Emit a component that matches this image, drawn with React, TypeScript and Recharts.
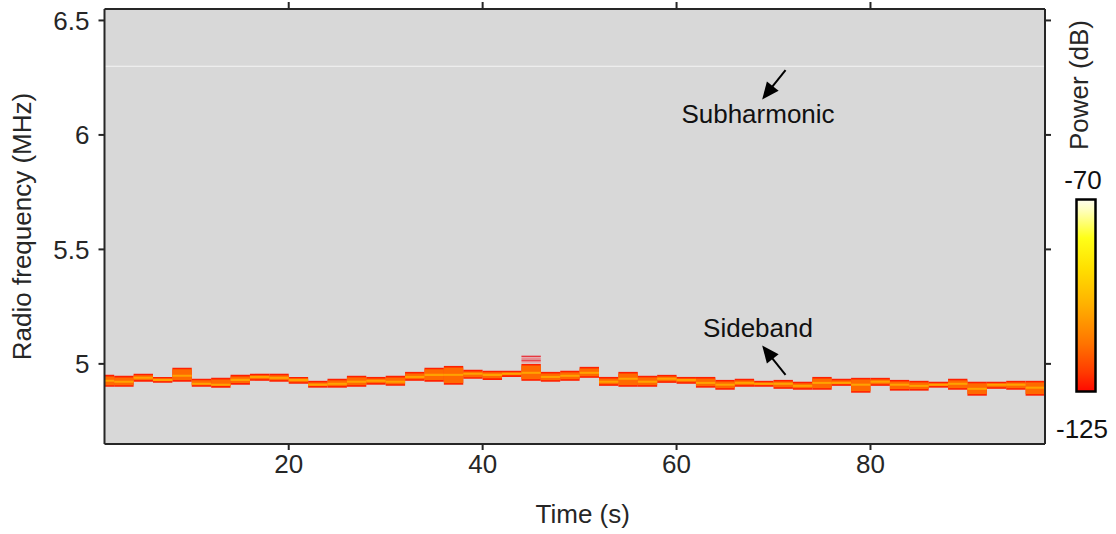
import React from 'react';
import { ComposedChart, XAxis, YAxis, ReferenceArea, ReferenceLine, ReferenceDot, CartesianGrid, Line } from 'recharts';

// ---- data ----
const binCenters = [1, 3, 5, 7, 9, 11, 13, 15, 17, 19, 21, 23, 25, 27, 29, 31, 33, 35, 37, 39, 41, 43, 45, 47, 49, 51, 53, 55, 57, 59, 61, 63, 65, 67, 69, 71, 73, 75, 77, 79, 81, 83, 85, 87, 89, 91, 93, 95, 97];
const bandHigh = [4.952, 4.948, 4.957, 4.943, 4.983, 4.935, 4.939, 4.952, 4.957, 4.957, 4.943, 4.926, 4.935, 4.948, 4.943, 4.948, 4.965, 4.983, 4.991, 4.974, 4.970, 4.970, 5.000, 4.965, 4.970, 4.987, 4.943, 4.965, 4.948, 4.952, 4.943, 4.943, 4.930, 4.935, 4.926, 4.930, 4.922, 4.943, 4.935, 4.939, 4.939, 4.930, 4.926, 4.922, 4.935, 4.922, 4.922, 4.926, 4.926];
const bandLow = [4.900, 4.900, 4.922, 4.917, 4.922, 4.900, 4.896, 4.909, 4.926, 4.922, 4.913, 4.896, 4.896, 4.900, 4.909, 4.904, 4.926, 4.922, 4.909, 4.935, 4.930, 4.943, 4.926, 4.922, 4.926, 4.939, 4.904, 4.900, 4.900, 4.917, 4.913, 4.896, 4.887, 4.900, 4.900, 4.891, 4.887, 4.887, 4.904, 4.874, 4.904, 4.883, 4.883, 4.896, 4.887, 4.861, 4.891, 4.887, 4.861];
const bandPeak = [4.926, 4.922, 4.939, 4.930, 4.948, 4.913, 4.909, 4.930, 4.943, 4.939, 4.930, 4.909, 4.913, 4.922, 4.926, 4.922, 4.943, 4.952, 4.952, 4.957, 4.952, 4.957, 4.961, 4.943, 4.948, 4.961, 4.922, 4.935, 4.922, 4.935, 4.930, 4.917, 4.909, 4.917, 4.913, 4.913, 4.904, 4.917, 4.917, 4.909, 4.922, 4.909, 4.904, 4.909, 4.913, 4.891, 4.909, 4.909, 4.896];
const ghostTime = 45;
const ghostLines = [5.033, 5.025, 5.016, 5.009];
const subharmonicFreq = 6.3;

const xTicks = [20, 40, 60, 80];
const yTicks = [5, 5.5, 6, 6.5];
const xDomain = [1, 98];
const yDomain = [4.65, 6.55];

const annotationText = ['Subharmonic', 'Sideband'];
const annotationTime = [68.4, 68.4];
const annotationFreq = [6.091, 5.157];
const arrowTailTime = [71.24, 71.24];
const arrowTailFreq = [6.283, 4.952];
const arrowTipTime = [68.83, 68.83];
const arrowTipFreq = [6.155, 5.080];

const colorbarTicks = ['-70', '-125'];
const colorbarTitle = 'Power (dB)';

const chartData = binCenters.map((t, i) => ({ t, f: bandPeak[i] }));

// ---- styles ----
const FONT = 'Liberation Sans, Arial, Helvetica, sans-serif';
const FS = 26;
const AX = '#262626';
const BG = '#d8d8d8';
const RED = '#ff2000';
const ORANGE = '#ff6a00';
const CORE = '#ffa200';
const BIN_HALF = 1;
const INSET = 0.007;
const CORE_HALF = 0.0045;

const Arrow = (props: any) => {
  const { x1, y1, x2, y2 } = props;
  if ([x1, y1, x2, y2].some((v) => typeof v !== 'number' || isNaN(v))) return null;
  const dx = x2 - x1;
  const dy = y2 - y1;
  const len = Math.sqrt(dx * dx + dy * dy);
  const ux = dx / len;
  const uy = dy / len;
  const headLen = 17;
  const headHalf = 7.5;
  const bx = x2 - ux * headLen;
  const by = y2 - uy * headLen;
  const px = -uy;
  const py = ux;
  return (
    <g>
      <line x1={x1} y1={y1} x2={bx + ux * 2} y2={by + uy * 2} stroke="#000" strokeWidth={2} />
      <polygon
        points={`${x2},${y2} ${bx + px * headHalf},${by + py * headHalf} ${bx - px * headHalf},${by - py * headHalf}`}
        fill="#000"
      />
    </g>
  );
};

const YLabel = (props: any) => {
  const vb = props.viewBox || {};
  const cx = 31;
  const cy = (vb.y ?? 9) + (vb.height ?? 435) / 2;
  return (
    <text x={cx} y={cy} transform={`rotate(-90, ${cx}, ${cy})`} textAnchor="middle" fontSize={FS} fill={AX} fontFamily={FONT}>
      Radio frequency (MHz)
    </text>
  );
};

export default function App() {
  const tickStyle = { fontSize: FS, fill: AX, fontFamily: FONT };
  return (
    <div style={{ position: 'absolute', left: 0, top: 0, width: 1116, height: 534, background: '#fff', fontFamily: FONT }}>
      <ComposedChart width={1116} height={534} margin={{ top: 0, right: 0, bottom: 0, left: 0 }} data={chartData}>
        <CartesianGrid xAxisId="bottom" yAxisId="left" fill={BG} horizontal={false} vertical={false} />
        <XAxis
          xAxisId="bottom"
          dataKey="t"
          type="number"
          domain={xDomain}
          ticks={xTicks}
          allowDataOverflow
          height={90}
          tickSize={6}
          tickMargin={5}
          stroke={AX}
          strokeWidth={2}
          tick={tickStyle}
          label={{ value: 'Time (s)', position: 'insideBottom', offset: 11, dx: 8, fontSize: FS, fill: AX, fontFamily: FONT }}
        />
        <XAxis
          xAxisId="top"
          dataKey="t"
          orientation="top"
          type="number"
          domain={xDomain}
          ticks={xTicks}
          allowDataOverflow
          height={9}
          tickSize={7}
          stroke={AX}
          strokeWidth={2}
          tickFormatter={() => ''}
        />
        <YAxis
          yAxisId="left"
          type="number"
          domain={yDomain}
          ticks={yTicks}
          allowDataOverflow
          width={104.5}
          tickSize={6}
          tickMargin={9}
          stroke={AX}
          strokeWidth={2}
          tick={tickStyle}
          label={<YLabel />}
        />
        <YAxis
          yAxisId="right"
          orientation="right"
          type="number"
          domain={yDomain}
          ticks={yTicks}
          allowDataOverflow
          width={71}
          tickSize={6}
          stroke={AX}
          strokeWidth={2}
          tickFormatter={() => ''}
        />

        <Line xAxisId="bottom" yAxisId="left" dataKey="f" stroke="none" dot={false} activeDot={false} isAnimationActive={false} legendType="none" />
        <Line xAxisId="top" yAxisId="right" dataKey="f" stroke="none" dot={false} activeDot={false} isAnimationActive={false} legendType="none" />

        <ReferenceLine xAxisId="bottom" yAxisId="left" y={subharmonicFreq} stroke="#f4f4f4" strokeWidth={1} />

        {binCenters.map((c, i) => (
          <ReferenceArea
            key={`o${i}`}
            xAxisId="bottom"
            yAxisId="left"
            x1={c - BIN_HALF}
            x2={c + BIN_HALF}
            y1={bandLow[i]}
            y2={bandHigh[i]}
            fill={RED}
            fillOpacity={1}
            stroke="none"
            ifOverflow="hidden"
          />
        ))}
        {binCenters.map((c, i) => (
          <ReferenceArea
            key={`m${i}`}
            xAxisId="bottom"
            yAxisId="left"
            x1={c - BIN_HALF}
            x2={c + BIN_HALF}
            y1={bandLow[i] + INSET}
            y2={bandHigh[i] - INSET}
            fill={ORANGE}
            fillOpacity={1}
            stroke="none"
            ifOverflow="hidden"
          />
        ))}
        {binCenters.map((c, i) => (
          <ReferenceArea
            key={`c${i}`}
            xAxisId="bottom"
            yAxisId="left"
            x1={c - BIN_HALF}
            x2={c + BIN_HALF}
            y1={bandPeak[i] - CORE_HALF}
            y2={bandPeak[i] + CORE_HALF}
            fill={CORE}
            fillOpacity={1}
            stroke="none"
            ifOverflow="hidden"
          />
        ))}
        {ghostLines.map((f, i) => (
          <ReferenceLine
            key={`g${i}`}
            xAxisId="bottom"
            yAxisId="left"
            segment={[{ x: ghostTime - BIN_HALF, y: f }, { x: ghostTime + BIN_HALF, y: f }]}
            stroke={i % 2 === 0 ? '#e8303a' : '#ee7a80'}
            strokeWidth={1.3}
          />
        ))}

        {annotationText.map((t, i) => (
          <ReferenceLine
            key={`a${i}`}
            xAxisId="bottom"
            yAxisId="left"
            segment={[{ x: arrowTailTime[i], y: arrowTailFreq[i] }, { x: arrowTipTime[i], y: arrowTipFreq[i] }]}
            shape={Arrow}
          />
        ))}
        {annotationText.map((t, i) => (
          <ReferenceDot
            key={`t${i}`}
            xAxisId="bottom"
            yAxisId="left"
            x={annotationTime[i]}
            y={annotationFreq[i]}
            r={0}
            fill="none"
            stroke="none"
            label={{ value: t, position: 'center', fontSize: FS, fill: '#111', fontFamily: FONT }}
          />
        ))}
      </ComposedChart>

      <svg width={1116} height={534} style={{ position: 'absolute', left: 0, top: 0, pointerEvents: 'none' }}>
        <defs>
          <linearGradient id="hotbar" x1="0" y1="0" x2="0" y2="1">
            <stop offset="0" stopColor="#fffdf0" />
            <stop offset="0.06" stopColor="#ffffb8" />
            <stop offset="0.2" stopColor="#ffff18" />
            <stop offset="0.36" stopColor="#ffdf00" />
            <stop offset="0.55" stopColor="#ffb000" />
            <stop offset="0.75" stopColor="#ff7400" />
            <stop offset="0.9" stopColor="#ff3a00" />
            <stop offset="1" stopColor="#ff0800" />
          </linearGradient>
        </defs>
        <rect x={1076.5} y={199.5} width={19} height={192} fill="url(#hotbar)" stroke="#000" strokeWidth={2.5} />
        <text x={1083} y={189} textAnchor="middle" fontSize={FS} fill="#111" fontFamily={FONT}>{colorbarTicks[0]}</text>
        <text x={1082} y={438} textAnchor="middle" fontSize={FS} fill="#111" fontFamily={FONT}>{colorbarTicks[1]}</text>
        <text x={1088} y={85} transform="rotate(-90, 1088, 85)" textAnchor="middle" fontSize={FS} fill={AX} fontFamily={FONT}>{colorbarTitle}</text>
      </svg>
    </div>
  );
}
